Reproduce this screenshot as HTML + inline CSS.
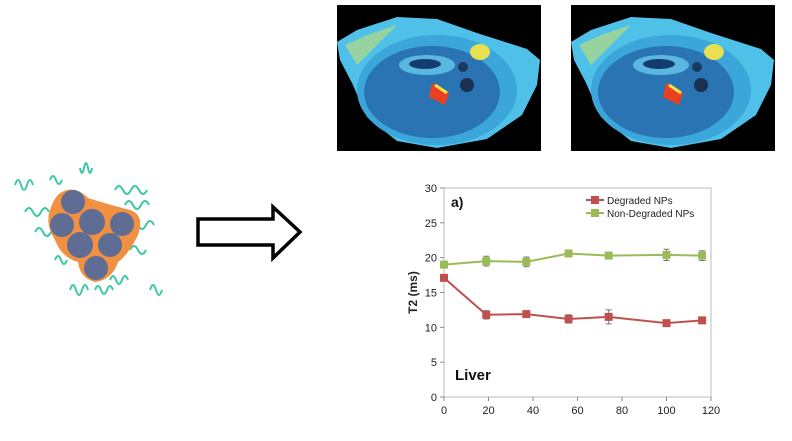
<!DOCTYPE html>
<html><head><meta charset="utf-8"><style>
html,body{margin:0;padding:0;background:#fff;width:792px;height:441px;overflow:hidden}
svg{display:block;font-family:"Liberation Sans",sans-serif}
</style></head><body>
<svg width="792" height="441" viewBox="0 0 792 441">
<defs>
<g id="mri">
<rect x="0" y="0" width="204" height="146" fill="#000"/>
<path d="M0,37 L20,25 L60,12 L100,14 L140,28 L190,44 L203,55 L200,80 L185,110 L150,134 L100,143 L60,136 L30,112 L15,78 L3,55 Z" fill="#4fc0e8"/>
<path d="M8,40 L30,30 L60,20 L40,40 L20,60 Z" fill="#c8e070" opacity="0.6"/>
<ellipse cx="100" cy="85" rx="80" ry="55" fill="#3aa6da"/>
<ellipse cx="95" cy="87" rx="68" ry="46" fill="#2a74b4"/>
<ellipse cx="90" cy="60" rx="28" ry="10" fill="#5ab7e0"/>
<ellipse cx="88" cy="59" rx="16" ry="5" fill="#143c70"/>
<ellipse cx="143" cy="47" rx="10" ry="8" fill="#e8e050"/>
<circle cx="126" cy="62" r="5" fill="#1a3a5a"/>
<circle cx="130" cy="80" r="7" fill="#1a3050"/>
<path d="M95,78 L112,88 L108,100 L92,92 Z" fill="#e84020"/>
<path d="M98,80 L110,88" stroke="#ffe040" stroke-width="3"/>
</g>
</defs>
<use href="#mri" x="337" y="5"/>
<use href="#mri" x="571" y="5"/>

<g>
<g fill="none" stroke="#3cc8a8" stroke-width="2">
<path d="M15,185 q3,-10 6,0 t6,0 t6,0"/>
<path d="M25,212 q4,-8 8,0 t8,0 t8,0"/>
<path d="M35,232 q4,-8 8,0 t8,0"/>
<path d="M115,190 q4,-8 8,0 t8,0 t8,0 t8,0"/>
<path d="M125,205 q4,-8 8,0 t8,0 t8,0"/>
<path d="M130,225 q4,-8 8,0 t8,0 t8,0"/>
<path d="M130,250 q4,-8 8,0 t8,0"/>
<path d="M150,290 q3,-10 6,0 t6,0"/>
<path d="M80,168 q2,10 4,0 t4,0 t4,0"/>
<path d="M50,180 q3,-8 6,0 t6,0"/>
<path d="M70,290 q3,-10 6,0 t6,0 t6,0"/>
<path d="M95,290 q3,-8 6,0 t6,0 t6,0"/>
<path d="M110,280 q3,-8 6,0 t6,0 t6,0"/>
<path d="M55,260 q3,-8 6,0 t6,0"/>
</g>
<path d="M62,192 Q75,185 88,198 Q110,205 130,210 Q145,215 138,235 Q128,255 118,262 Q112,280 95,282 Q80,278 78,262 Q62,258 55,240 Q45,225 50,210 Q55,195 62,192 Z" fill="#f09040"/>
<g fill="#5f6c94">
<circle cx="73" cy="202" r="12"/><circle cx="62" cy="225" r="12"/><circle cx="92" cy="222" r="13"/>
<circle cx="122" cy="224" r="12"/><circle cx="80" cy="245" r="13"/><circle cx="110" cy="245" r="12"/><circle cx="96" cy="268" r="12"/>
</g>
</g>

<path d="M198,219 L273,219 L273,207 L300,232 L273,258 L273,245 L198,245 Z" fill="#fff" stroke="#000" stroke-width="3.5"/>

<g id="chart"></g>
</svg>
<script>
const timesX=[0,19,37,56,74,100,116];
const degraded=[17.1,11.8,11.9,11.2,11.5,10.6,11.0];
const degradedErr=[0.3,0.6,0.4,0.6,1.0,0.3,0.4];
const nonDegraded=[19.0,19.5,19.4,20.6,20.3,20.4,20.3];
const nonDegradedErr=[0.3,0.7,0.7,0.4,0.4,0.8,0.7];
const xTicks=[0,20,40,60,80,100,120];
const xTickLabels=["0","20","40","60","80","100","120"];
const yTicks=[0,5,10,15,20,25,30];

const NS="http://www.w3.org/2000/svg";
const g=document.getElementById('chart');
const L=444,R=711,T=188,B=397;
const sx=v=>L+(v-0)/120*(R-L);
const sy=v=>B-(v/30)*(B-T);
function mk(tag,attrs,parent){const e=document.createElementNS(NS,tag);for(const k in attrs)e.setAttribute(k,attrs[k]);(parent||g).appendChild(e);return e;}

let box=mk('rect',{x:L,y:T,width:R-L,height:B-T,fill:'none',stroke:'#bbb','stroke-width':1});


yTicks.forEach(v=>{
  let t=mk('line',{x1:L-4,x2:L,y1:sy(v),y2:sy(v),stroke:'#888'});
  
  
  let tx=mk('text',{x:L-7,y:sy(v)+4,'text-anchor':'end','font-size':11,fill:'#222'});tx.textContent=v;
  
  
});
xTicks.forEach((v,i)=>{
  let t=mk('line',{x1:sx(v),x2:sx(v),y1:B,y2:B+4,stroke:'#888'});
  
  
  let tx=mk('text',{x:sx(v),y:B+17,'text-anchor':'middle','font-size':11,fill:'#222'});tx.textContent=xTickLabels[i];
  
  
});
let yt=mk('text',{x:0,y:0,transform:`translate(417,${(T+B)/2}) rotate(-90)`,'text-anchor':'middle','font-size':12,'font-weight':'bold',fill:'#222'});
yt.textContent='T2 (ms)';



function series(vals,errs,color,name){
  const pts=vals.map((v,i)=>[sx(timesX[i]),sy(v)]);
  let p=mk('polyline',{points:pts.map(p=>p.join(',')).join(' '),fill:'none',stroke:color,'stroke-width':2});
  
  
  vals.forEach((v,i)=>{
    let e=mk('path',{d:`M${pts[i][0]},${sy(v+errs[i])}V${sy(v-errs[i])}M${pts[i][0]-3},${sy(v+errs[i])}h6M${pts[i][0]-3},${sy(v-errs[i])}h6`,stroke:'#777','stroke-width':1,fill:'none'});
    
    
    let m=mk('rect',{x:pts[i][0]-4,y:pts[i][1]-4,width:8,height:8,fill:color});
    
    
  });
}
series(nonDegraded,nonDegradedErr,'#9bbb59','non-degraded');
series(degraded,degradedErr,'#c0504d','degraded');

function legend(y,color,label,name){
  let l=mk('line',{x1:586,x2:604,y1:y,y2:y,stroke:color,'stroke-width':2});
  
  
  let r=mk('rect',{x:591,y:y-4,width:8,height:8,fill:color});
  
  
  let t=mk('text',{x:607,y:y+4,'font-size':10,fill:'#222'});t.textContent=label;
  
  
}
legend(200,'#c0504d','Degraded NPs','degraded');
legend(213,'#9bbb59','Non-Degraded NPs','non-degraded');

let a=mk('text',{x:451,y:207,'font-size':14,'font-weight':'bold',fill:'#111'});a.textContent='a)';


let lv=mk('text',{x:455,y:380,'font-size':15,'font-weight':'bold',fill:'#111'});lv.textContent='Liver';


</script>
</body></html>
